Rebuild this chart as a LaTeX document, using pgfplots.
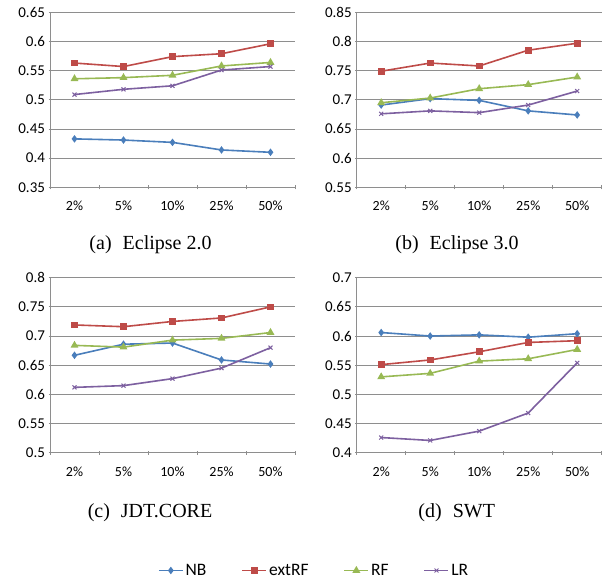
\documentclass[border=0pt]{standalone}
\usepackage{pgfplots}
\pgfplotsset{compat=1.18}
\usepackage{fontspec}
\setmainfont{Liberation Serif}
\newfontfamily\calib{Carlito}
\definecolor{nbc}{HTML}{4A7EBB}
\definecolor{rfx}{HTML}{BE4B48}
\definecolor{rfc}{HTML}{98B954}
\definecolor{lrc}{HTML}{7D60A0}
\definecolor{gridc}{HTML}{8E8E8E}
\pgfplotsset{
  panel/.style={
    scale only axis, width=245pt, height=175pt,
    xmin=0.5, xmax=5.5,
    xtick={1,2,3,4,5},
    xticklabels={2\%,5\%,10\%,25\%,50\%},
    major x tick style={draw=none},
    minor xtick={0.5,1.5,2.5,3.5,4.5,5.5},
    minor x tick style={gridc, line width=0.8pt},
    tick align=outside,
    minor tick length=4pt,
    major tick length=3pt,
    axis lines=left,
    axis line style={-, gridc, line width=1pt},
    ymajorgrids,
    grid style={gridc, line width=0.8pt},
    y tick style={gridc, line width=0.8pt},
    xticklabel style={font=\calib\fontsize{14}{16}\selectfont, yshift=-9pt},
    yticklabel style={font=\calib\fontsize{15}{17}\selectfont,
      /pgf/number format/fixed, /pgf/number format/precision=2},
    /pgf/number format/assume math mode=true,
    clip=false,
  },
  nb/.style={color=nbc, line width=1.6pt, mark=diamond*, mark size=2.5pt},
  ex/.style={color=rfx, line width=1.6pt, mark=square*, mark size=2.5pt},
  rf/.style={color=rfc, line width=1.6pt, mark=triangle*, mark size=3pt},
  lr/.style={color=lrc, line width=1.6pt, mark=x, mark size=2.8pt, mark options={line width=1pt}},
}
\begin{document}
\begin{tikzpicture}
\path[use as bounding box] (0pt,0pt) rectangle (609pt,587pt);
% (a)
\begin{axis}[panel, at={(50pt,399.7pt)}, anchor=south west,
  ymin=0.35, ymax=0.65, ytick={0.35,0.4,0.45,0.5,0.55,0.6,0.65}]
\addplot[nb] coordinates {(1,0.433)(2,0.431)(3,0.427)(4,0.414)(5,0.410)};
\addplot[ex] coordinates {(1,0.563)(2,0.557)(3,0.574)(4,0.579)(5,0.596)};
\addplot[rf] coordinates {(1,0.536)(2,0.538)(3,0.542)(4,0.558)(5,0.564)};
\addplot[lr] coordinates {(1,0.509)(2,0.518)(3,0.524)(4,0.551)(5,0.557)};
\end{axis}
% (b)
\begin{axis}[panel, at={(356.7pt,399.7pt)}, anchor=south west,
  ymin=0.55, ymax=0.85, ytick={0.55,0.6,0.65,0.7,0.75,0.8,0.85}]
\addplot[nb] coordinates {(1,0.691)(2,0.702)(3,0.699)(4,0.681)(5,0.674)};
\addplot[ex] coordinates {(1,0.749)(2,0.763)(3,0.758)(4,0.785)(5,0.797)};
\addplot[rf] coordinates {(1,0.695)(2,0.703)(3,0.719)(4,0.726)(5,0.739)};
\addplot[lr] coordinates {(1,0.676)(2,0.681)(3,0.678)(4,0.691)(5,0.715)};
\end{axis}
% (c)
\begin{axis}[panel, at={(50pt,134.3pt)}, anchor=south west,
  ymin=0.5, ymax=0.8, ytick={0.5,0.55,0.6,0.65,0.7,0.75,0.8},
  legend columns=4,
  legend style={at={(1.078,-0.673)}, anchor=center, draw=none, fill=none,
    font=\calib\fontsize{17.5}{19}\selectfont,
    /tikz/every even column/.append style={column sep=33pt}},
  legend image code/.code={\draw[#1, mark repeat=2, mark phase=2] plot coordinates {(0pt,0pt) (12pt,0pt) (24pt,0pt)};},
  ]
\addplot[nb] coordinates {(1,0.667)(2,0.686)(3,0.688)(4,0.659)(5,0.652)};
\addplot[ex] coordinates {(1,0.719)(2,0.716)(3,0.725)(4,0.731)(5,0.750)};
\addplot[rf] coordinates {(1,0.684)(2,0.681)(3,0.693)(4,0.696)(5,0.706)};
\addplot[lr] coordinates {(1,0.612)(2,0.615)(3,0.627)(4,0.645)(5,0.680)};
\legend{NB,extRF,RF,LR}
\end{axis}
% (d)
\begin{axis}[panel, at={(356.7pt,134.3pt)}, anchor=south west,
  ymin=0.4, ymax=0.7, ytick={0.4,0.45,0.5,0.55,0.6,0.65,0.7}]
\addplot[nb] coordinates {(1,0.606)(2,0.600)(3,0.602)(4,0.598)(5,0.604)};
\addplot[ex] coordinates {(1,0.551)(2,0.559)(3,0.573)(4,0.589)(5,0.592)};
\addplot[rf] coordinates {(1,0.530)(2,0.536)(3,0.557)(4,0.561)(5,0.577)};
\addplot[lr] coordinates {(1,0.426)(2,0.421)(3,0.437)(4,0.468)(5,0.554)};
\end{axis}
\node[font=\fontsize{20}{23}\selectfont] at (150.5pt,342pt) {(a)\hspace{0.3em} Eclipse 2.0};
\node[font=\fontsize{20}{23}\selectfont] at (457pt,342pt) {(b)\hspace{0.3em} Eclipse 3.0};
\node[font=\fontsize{20}{23}\selectfont] at (150pt,74pt) {(c)\hspace{0.3em} JDT.CORE};
\node[font=\fontsize{20}{23}\selectfont] at (456.7pt,74pt) {(d)\hspace{0.3em} SWT};
\end{tikzpicture}
\end{document}
